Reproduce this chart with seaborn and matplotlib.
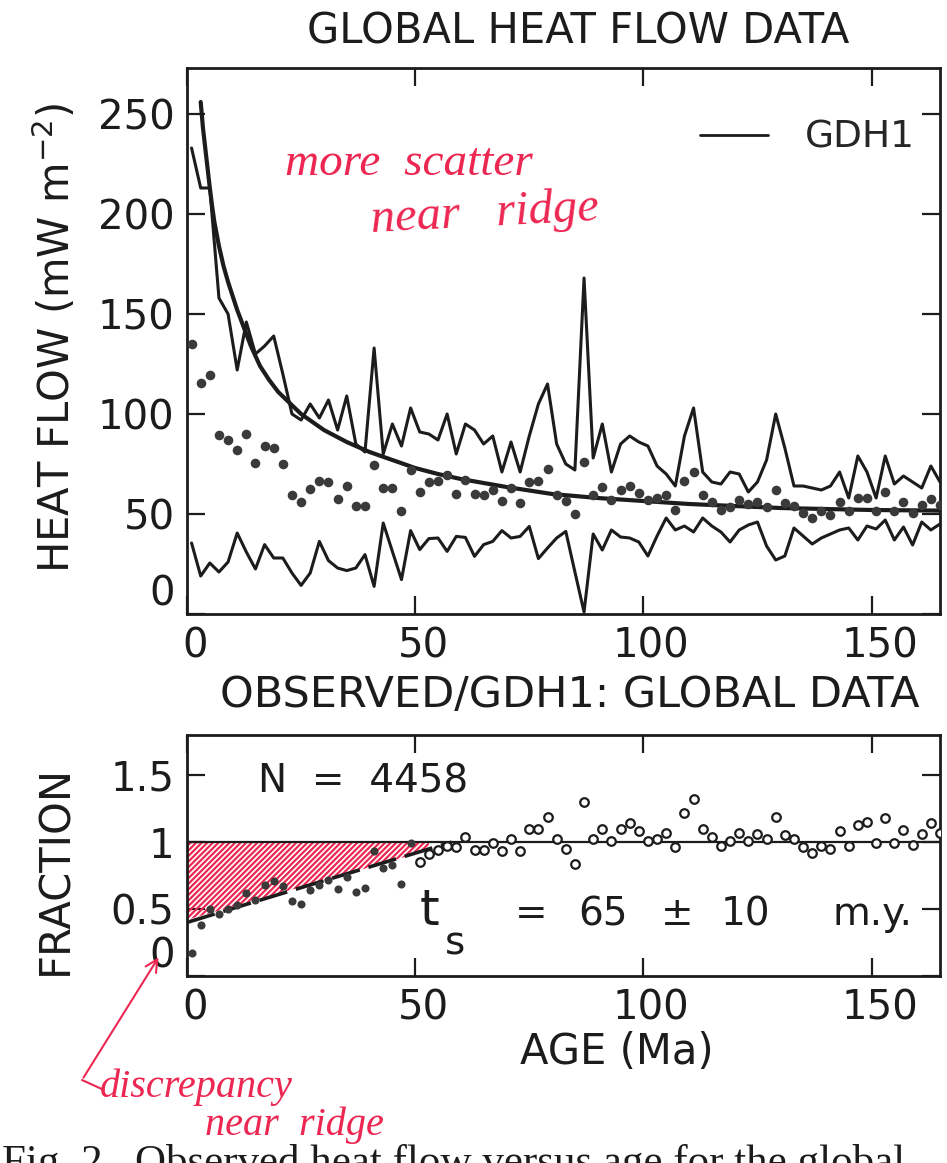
import matplotlib
matplotlib.use("Agg")
import matplotlib.pyplot as plt
import matplotlib.transforms as mtransforms
from matplotlib.lines import Line2D
import seaborn as sns

# ---- data (2 Ma age bins) ----
age = [1, 3, 5, 7, 9, 11, 13, 15, 17, 19, 21, 23, 25, 27, 29, 31, 33, 35, 37, 39,
       41, 43, 45, 47, 49, 51, 53, 55, 57, 59, 61, 63, 65, 67, 69, 71, 73, 75, 77, 79,
       81, 83, 85, 87, 89, 91, 93, 95, 97, 99, 101, 103, 105, 107, 109, 111, 113, 115, 117, 119,
       121, 123, 125, 127, 129, 131, 133, 135, 137, 139, 141, 143, 145, 147, 149, 151, 153, 155, 157, 159,
       161, 163, 165]

hf_upper = [233, 213, 213, 158, 150, 122, 146, 130, 134, 139,
            120, 100, 97, 105, 98, 107, 92, 109, 85, 81,
            133, 80, 95, 84, 103, 91, 90, 87, 100, 80,
            95, 92, 85, 89, 71, 86, 71, 89, 105, 115,
            85, 75, 72, 168, 78, 95, 71, 85, 89, 86,
            84, 74, 70, 64, 89, 103, 71, 66, 65, 71,
            70, 61, 66, 77, 100, 83, 64, 64, 63, 62,
            64, 71, 58, 79, 71, 58, 79, 65, 69, 66,
            63, 74, 66]

hf_lower = [35.5, 19, 25.5, 21, 26, 40.5, 31, 22.5, 34.7, 28,
            28, 20.5, 14.3, 20.5, 36.3, 26.7, 23, 21.7, 23, 29.7,
            13.8, 45.5, 31.3, 17.2, 41.7, 32.2, 37.7, 38, 31.3, 38.8,
            38.3, 28.8, 34.7, 36.3, 41.7, 38, 38.8, 43.8, 27.7, 33,
            38, 41.3, 21, 1, 40, 32, 42, 38.5, 38, 36,
            29, 39, 48, 42, 44, 41, 48, 44, 41, 36,
            42, 44.5, 46, 34, 27, 29, 43, 39, 35, 38,
            40, 42, 43, 37, 44, 42.5, 47, 37, 43.5, 34.5,
            46, 42, 45]

hf_mean = [135, 115.5, 119.3, 89.7, 87.2, 82.2, 90, 75.5, 83.8, 83,
           75, 59.7, 56, 62.5, 66.3, 65.8, 57.5, 64.2, 53.8, 53.8,
           74.7, 63, 63, 51.7, 72.2, 61, 66, 66.3, 69.7, 60,
           67.2, 60, 59.7, 62.2, 56.7, 63, 55.5, 65.8, 66.7, 72.7,
           59.7, 56.3, 50, 75.8, 59.7, 63.3, 56.8, 62.2, 64.2, 60.5,
           57.2, 58, 59.6, 52.2, 66.3, 71, 59.7, 56, 52.2, 53.3,
           57.2, 55, 56, 53.3, 62.2, 55.5, 53.8, 50.5, 48, 51.3,
           49.7, 56, 51.3, 58, 58, 51.3, 61, 51.3, 56, 50.5,
           54.7, 57.7, 54.7]

gdh1_age = [3, 3.5, 4, 5, 5.5, 6, 7, 8, 9, 10, 11, 12, 14, 16, 18, 20, 25, 30, 35, 40,
            45, 50, 55, 60, 70, 80, 90, 100, 110, 120, 130, 140, 150, 165]
gdh1_q = [256, 243, 233, 213, 204, 196, 184, 174, 166, 159, 152, 146, 134, 124, 117, 111, 100, 92, 86, 81,
          77, 73, 70, 67.5, 63.5, 60, 58, 56.5, 55, 54, 53, 52.5, 52, 51.7]

frac_age_filled = age[:25]
frac_filled = [0.17, 0.38, 0.50, 0.46, 0.50, 0.53, 0.62, 0.57, 0.68, 0.71,
               0.67, 0.56, 0.54, 0.64, 0.68, 0.72, 0.65, 0.74, 0.63, 0.66,
               0.93, 0.81, 0.83, 0.69, 0.99]
frac_age_open = age[25:]
frac_open = [0.85, 0.91, 0.94, 0.97, 0.96, 1.04, 0.94, 0.94, 0.99, 0.93,
             1.02, 0.93, 1.10, 1.10, 1.19, 1.02, 0.95, 0.84, 1.30, 1.02,
             1.10, 1.01, 1.10, 1.14, 1.08, 1.01, 1.02, 1.07, 0.96, 1.22,
             1.32, 1.10, 1.04, 0.97, 1.01, 1.07, 1.01, 1.06, 1.02, 1.19,
             1.05, 1.02, 0.96, 0.92, 0.97, 0.95, 1.08, 0.97, 1.13, 1.15,
             0.99, 1.18, 0.99, 1.09, 0.98, 1.06, 1.14, 1.07]

dash_age = [0, 25, 58]
dash_frac = [0.40, 0.66, 1.0]
shade_age = [0, 53]
shade_low = [0.42, 0.94]
shade_high = [1.0, 1.0]

ink = "#1c1c1c"
dot = "#3a3a3a"
red = "#ec2752"

sns.set_style("ticks")
plt.rcParams["font.family"] = ["DejaVu Sans"]
plt.rcParams["hatch.linewidth"] = 1.6

W, H = 947, 1163
fig = plt.figure(figsize=(W / 100, H / 100), dpi=100)


def px_axes(l, t, r, b):
    return fig.add_axes([l / W, 1 - b / H, (r - l) / W, (b - t) / H])


def fx(x):
    return x / W


def fy(y):
    return 1 - y / H


ax1 = px_axes(187, 68, 940, 614)
ax2 = px_axes(187, 735, 940, 976)

# ---- top panel: heat flow vs age ----
sns.lineplot(x=age, y=hf_upper, ax=ax1, color=ink, linewidth=2.2, legend=False)
sns.lineplot(x=age, y=hf_lower, ax=ax1, color=ink, linewidth=2.2, legend=False)
sns.lineplot(x=gdh1_age, y=gdh1_q, ax=ax1, color=ink, linewidth=3.0, label="GDH1")
sns.scatterplot(x=age, y=hf_mean, ax=ax1, color=dot, s=48, linewidth=0, zorder=4)

ax1.set_xlim(0, 165)
ax1.set_ylim(0, 273)
ax1.set_xticks([0, 50, 100, 150])
ax1.set_yticks([0, 50, 100, 150, 200, 250])
ax1.set_xlabel("")
ax1.set_ylabel("")
ax1.legend(loc="upper right", bbox_to_anchor=(0.967, 0.905), frameon=False, fontsize=27,
           handlelength=1.8, handletextpad=1.0, borderaxespad=0, borderpad=0)
for h in ax1.get_legend().get_lines():
    h.set_linewidth(2.0)

# ---- bottom panel: observed / GDH1 ----
ax2.fill_between(shade_age, shade_low, shade_high, facecolor="none", edgecolor=red,
                 hatch="//////", linewidth=0, zorder=1)
ax2.axhline(1.0, color=ink, linewidth=1.6, zorder=2)
sns.lineplot(x=dash_age, y=dash_frac, ax=ax2, color=ink, linewidth=2.6, legend=False,
             linestyle=(0, (8, 2.5)), zorder=3)
sns.scatterplot(x=frac_age_filled, y=frac_filled, ax=ax2, color=dot, s=34, linewidth=0, zorder=4)
sns.scatterplot(x=frac_age_open, y=frac_open, ax=ax2, color="white", edgecolor=ink,
                s=38, linewidth=1.6, zorder=4)

ax2.set_xlim(0, 165)
ax2.set_ylim(0, 1.8)
ax2.set_xticks([0, 50, 100, 150])
ax2.set_yticks([0, 0.5, 1, 1.5])
ax2.set_yticklabels(["0", "0.5", "1", "1.5"])
ax2.set_xlabel("")
ax2.set_ylabel("")

ax2.text(15.5, 1.37, "N  =  4458", fontsize=28, color=ink, ha="left", va="baseline")
ax2.text(53.2, 0.38, "t", fontsize=36, color=ink, ha="center", va="baseline")
ax2.text(58.7, 0.16, "s", fontsize=28, color=ink, ha="center", va="baseline")
for xp, s in [(75.4, "="), (91.2, "65"), (107.5, "\u00b1"), (122.4, "10"), (150.1, "m.y.")]:
    ax2.text(xp, 0.38, s, fontsize=28, color=ink, ha="center", va="baseline")

for ax in (ax1, ax2):
    ax.tick_params(direction="in", length=13, width=1.6, top=True, right=True,
                   labelsize=29, pad=9, colors=ink)
    for sp in ax.spines.values():
        sp.set_linewidth(2.0)
        sp.set_color(ink)
    # the "0" on the y axis sits a little higher in the original
    ax.get_yticklabels()[0].set_verticalalignment("bottom")
    shift = mtransforms.ScaledTranslation(0.08, 0, fig.dpi_scale_trans)
    for lab in ax.get_xticklabels():
        lab.set_transform(lab.get_transform() + shift)

# ---- titles and axis labels ----
fig.text(fx(578), fy(32), "GLOBAL HEAT FLOW DATA", fontsize=30, ha="center", va="center", color=ink)
fig.text(fx(570), fy(695), "OBSERVED/GDH1: GLOBAL DATA", fontsize=31, ha="center", va="center", color=ink)
fig.text(fx(617), fy(1052), "AGE (Ma)", fontsize=30, ha="center", va="center", color=ink)
fig.text(fx(55), fy(338), "HEAT FLOW (mW m$^{-2}$)", fontsize=30, rotation=90,
         ha="center", va="center", color=ink)
fig.text(fx(55), fy(870), "FRACTION", fontsize=30, rotation=90, ha="center", va="center", color=ink)

# ---- handwritten notes ----
hand = dict(family=["Liberation Serif", "DejaVu Serif"], style="italic", color=red)
fig.text(fx(285), fy(175), "more  scatter", fontsize=34, ha="left", va="baseline", **hand)
fig.text(fx(370), fy(232), "near   ridge", fontsize=35, ha="left", va="baseline", rotation=3, **hand)
fig.text(fx(100), fy(1097), "discrepancy", fontsize=29, ha="left", va="baseline", **hand)
fig.text(fx(205), fy(1135), "near  ridge", fontsize=29, ha="left", va="baseline", **hand)
fig.add_artist(Line2D([fx(82), fx(104)], [fy(1080), fy(1090)], transform=fig.transFigure,
                      color=red, linewidth=1.5))
ax2.annotate("", xy=(160, H - 955), xycoords="figure pixels", xytext=(82, H - 1080),
             textcoords="figure pixels", annotation_clip=False,
             arrowprops=dict(arrowstyle="->", color=red, lw=1.5, mutation_scale=22))

# cropped caption at the bottom of the scan
fig.text(fx(2), fy(1144), "Fig. 2.  Observed heat flow versus age for the global",
         fontsize=31, family=["Liberation Serif", "DejaVu Serif"], ha="left", va="top", color=ink)

fig.savefig("out.png", dpi=100, facecolor="white")
